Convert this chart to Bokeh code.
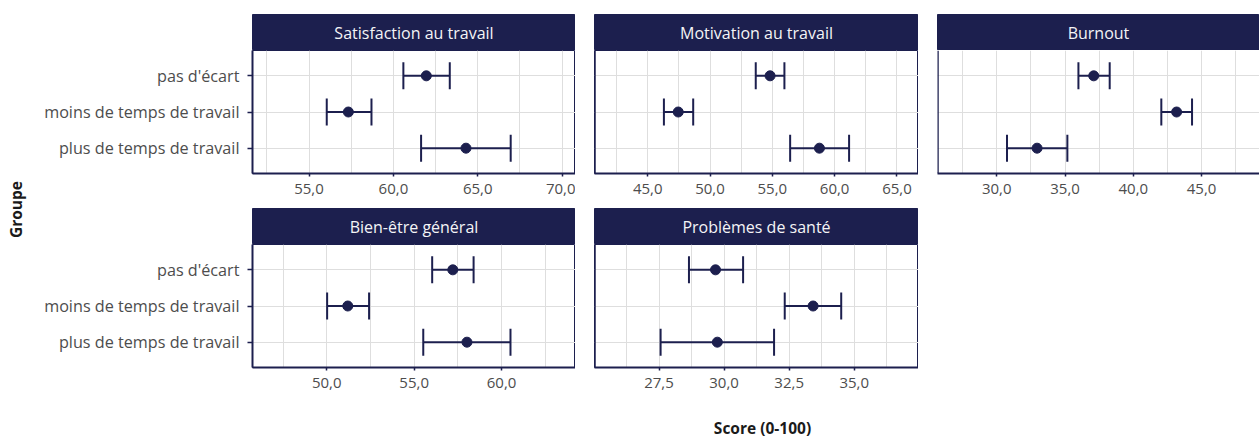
import math

from bokeh.plotting import figure
from bokeh.layouts import row, column
from bokeh.models import (ColumnDataSource, FactorRange, Range1d, FixedTicker,
                          Whisker, TeeHead, Label, Span)
from bokeh.embed import file_html
from bokeh.resources import INLINE

# ---- data -------------------------------------------------------------
groups = ["pas d'écart", "moins de temps de travail", "plus de temps de travail"]

outcomes = ["Satisfaction au travail", "Motivation au travail", "Burnout",
            "Bien-être général", "Problèmes de santé"]

satisfaction_mean = [61.95, 57.33, 64.30]
satisfaction_low = [60.59, 56.05, 61.64]
satisfaction_high = [63.34, 58.70, 66.95]

motivation_mean = [54.82, 47.45, 58.78]
motivation_low = [53.67, 46.30, 56.43]
motivation_high = [55.97, 48.65, 61.16]

burnout_mean = [37.10, 43.17, 32.95]
burnout_low = [35.98, 42.05, 30.75]
burnout_high = [38.27, 44.30, 35.17]

wellbeing_mean = [57.21, 51.20, 58.02]
wellbeing_low = [56.03, 50.02, 55.52]
wellbeing_high = [58.40, 52.42, 60.51]

health_mean = [29.67, 33.42, 29.74]
health_low = [28.65, 32.33, 27.56]
health_high = [30.73, 34.50, 31.92]

satisfaction_ticks = [55.0, 60.0, 65.0, 70.0]
motivation_ticks = [45.0, 50.0, 55.0, 60.0, 65.0]
burnout_ticks = [30.0, 35.0, 40.0, 45.0]
wellbeing_ticks = [50.0, 55.0, 60.0]
health_ticks = [27.5, 30.0, 32.5, 35.0]

x_title = "Score (0-100)"
y_title = "Groupe"

# ---- style ------------------------------------------------------------
NAVY = "#1c1f4e"
GRID = "#dedede"
TICK_TEXT = "#4d4d4d"
TITLE_TEXT = "#1a1a1a"
FONT = "Open Sans"

FRAME_H = 123
STRIP_H = 36


def fr(v):
    return f"{v:.1f}".replace(".", ",")


def minor_between(ticks):
    step = ticks[1] - ticks[0]
    return [ticks[0] - step / 2] + [t + step / 2 for t in ticks]


def blank_figure(width, height, **kw):
    f = figure(width=width, height=height,
               x_axis_location=None, y_axis_location=None,
               output_backend="svg", toolbar_location=None, **kw)
    f.xgrid.visible = False
    f.ygrid.visible = False
    return f


def make_strip(title, width, left, top):
    s = blank_figure(width, STRIP_H + top,
                     x_range=Range1d(0, 1), y_range=Range1d(0, 1),
                     min_border_left=left, min_border_right=0,
                     min_border_top=top, min_border_bottom=0,
                     background_fill_color=NAVY, border_fill_color="white",
                     outline_line_color=NAVY)
    s.add_layout(Label(x=0.5, y=0.5, text=title, text_align="center",
                       text_baseline="middle", text_color="#f4f4f6",
                       text_font=FONT, text_font_size="16px"))
    return s


def make_panel(mean, low, high, x_start, x_end, ticks, width, left, bottom,
               show_labels, outline=True):
    p = figure(width=width, height=FRAME_H + bottom,
               x_range=Range1d(x_start, x_end),
               y_range=FactorRange(factors=groups[::-1], range_padding=0.2,
                                   range_padding_units="absolute"),
               y_axis_location="left" if show_labels else None,
               output_backend="svg", toolbar_location=None,
               min_border_left=left, min_border_right=0,
               min_border_top=0, min_border_bottom=bottom,
               background_fill_color="white", border_fill_color="white",
               outline_line_color=NAVY if outline else None,
               outline_line_width=1)

    p.xgrid.grid_line_color = GRID
    p.xgrid.minor_grid_line_color = GRID
    p.ygrid.grid_line_color = GRID

    src = ColumnDataSource(dict(group=groups, mean=mean, low=low, high=high))
    p.add_layout(Whisker(source=src, base="group", lower="low", upper="high",
                         dimension="width", line_color=NAVY, line_width=2,
                         lower_head=TeeHead(size=27, line_color=NAVY, line_width=2),
                         upper_head=TeeHead(size=27, line_color=NAVY, line_width=2)))
    p.scatter("mean", "group", source=src, size=10, color=NAVY)

    # x axis
    xa = p.xaxis[0]
    xa.ticker = FixedTicker(ticks=ticks, minor_ticks=minor_between(ticks))
    xa.major_label_overrides = {t: fr(t) for t in ticks}
    xa.axis_line_color = NAVY
    xa.axis_line_width = 2
    xa.major_tick_line_color = NAVY
    xa.major_tick_line_width = 1.5
    xa.major_tick_out = 3
    xa.major_tick_in = 0
    xa.minor_tick_line_color = None
    xa.major_label_text_font = FONT
    xa.major_label_text_font_size = "15px"
    xa.major_label_text_color = TICK_TEXT
    xa.major_label_standoff = 6

    # y axis: labelled on the first column, a plain left edge elsewhere
    if show_labels:
        ya = p.yaxis[0]
        ya.axis_line_color = NAVY
        ya.axis_line_width = 2
        ya.minor_tick_line_color = None
        ya.major_tick_line_color = NAVY
        ya.major_tick_line_width = 1.5
        ya.major_tick_out = 5
        ya.major_tick_in = 0
        ya.major_label_text_font = FONT
        ya.major_label_text_font_size = "16.2px"
        ya.major_label_text_color = TICK_TEXT
        ya.major_label_standoff = 8
    else:
        p.add_layout(Span(location=x_start, dimension="height",
                          line_color=NAVY, line_width=2.5))
    return p


# ---- panels -----------------------------------------------------------
p1 = make_panel(satisfaction_mean, satisfaction_low, satisfaction_high,
                51.65, 70.79, satisfaction_ticks, 545, 222, 35, True)
p2 = make_panel(motivation_mean, motivation_low, motivation_high,
                40.73, 66.73, motivation_ticks, 343, 19, 35, False)
p3 = make_panel(burnout_mean, burnout_low, burnout_high,
                25.66, 49.24, burnout_ticks, 341, 19, 35, False, outline=False)
p4 = make_panel(wellbeing_mean, wellbeing_low, wellbeing_high,
                45.75, 64.23, wellbeing_ticks, 545, 222, 31, True)
p5 = make_panel(health_mean, health_low, health_high,
                25.02, 37.47, health_ticks, 343, 19, 31, False)

s1 = make_strip(outcomes[0], 545, 222, 14)
s2 = make_strip(outcomes[1], 343, 19, 14)
s3 = make_strip(outcomes[2], 341, 19, 14)
s4 = make_strip(outcomes[3], 545, 222, 0)
s5 = make_strip(outcomes[4], 343, 19, 0)

# shared axis titles
gfig = blank_figure(30, 439, x_range=Range1d(0, 30), y_range=Range1d(0, 439),
                    min_border=0, outline_line_color=None)
gfig.add_layout(Label(x=15.5, y=230, text=y_title, angle=math.pi / 2,
                      text_align="center", text_baseline="middle",
                      text_font=FONT, text_font_size="15.5px",
                      text_font_style="bold", text_color=TITLE_TEXT))

xfig = blank_figure(1229, 41, x_range=Range1d(0, 1229), y_range=Range1d(0, 41),
                    min_border=0, outline_line_color=None)
xfig.add_layout(Label(x=732, y=12, text=x_title, text_align="center",
                      text_baseline="middle", text_font=FONT,
                      text_font_size="15.5px", text_font_style="bold",
                      text_color=TITLE_TEXT))

layout = row(
    gfig,
    column(
        row(column(s1, p1), column(s2, p2), column(s3, p3)),
        row(column(s4, p4), column(s5, p5)),
        xfig,
    ),
)

open("out.html", "w").write(file_html(layout, INLINE))
